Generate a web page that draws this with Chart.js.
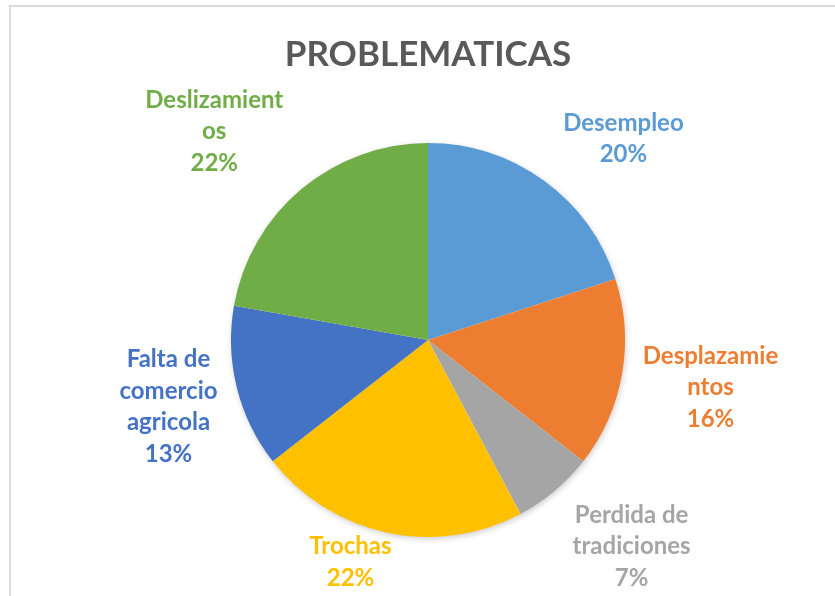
<!DOCTYPE html>
<html>
<head>
<meta charset="utf-8">
<script src="https://cdn.jsdelivr.net/npm/chart.js@4"></script>
<style>
  html, body { margin: 0; padding: 0; background: #ffffff; }
  #wrap { position: relative; width: 835px; height: 596px; overflow: hidden; background: #ffffff; }
  #frame { position: absolute; left: 9px; top: 5px; width: 900px; height: 700px; border: 2px solid #dcdcdc; box-sizing: border-box; }
  canvas { position: absolute; left: 0; top: 0; }
</style>
</head>
<body>
<div id="wrap">
  <div id="frame"></div>
  <canvas id="c" width="835" height="596"></canvas>
</div>
<script>
const chartTitle = 'PROBLEMATICAS';
const categories = ['Desempleo', 'Desplazamientos', 'Perdida de tradiciones', 'Trochas', 'Falta de comercio agricola', 'Deslizamientos'];
const labelLines = [['Desempleo'], ['Desplazamie', 'ntos'], ['Perdida de', 'tradiciones'], ['Trochas'], ['Falta de', 'comercio', 'agricola'], ['Deslizamient', 'os']];
const values = [9, 7, 3, 10, 6, 10];
const colors = ['#5B9BD5', '#ED7D31', '#A5A5A5', '#FFC000', '#4472C4', '#70AD47'];
const labelNudge = [[37, 16], [3, -3], [22, -11], [-26, -21], [4, 0], [-28, 12]];

const FONT = 'Lato, "Open Sans", sans-serif';

const shadowPlugin = {
  id: 'xlShadow',
  beforeDatasetsDraw(chart) {
    const arc = chart.getDatasetMeta(0).data[0];
    if (!arc) return;
    const p = arc.getProps(['x', 'y', 'outerRadius'], true);
    const ctx = chart.ctx;
    ctx.save();
    ctx.shadowColor = 'rgba(0,0,0,0.22)';
    ctx.shadowBlur = 6;
    ctx.shadowOffsetX = 1;
    ctx.shadowOffsetY = 2;
    ctx.fillStyle = '#ffffff';
    ctx.beginPath();
    ctx.arc(p.x, p.y, p.outerRadius - 0.5, 0, Math.PI * 2);
    ctx.fill();
    ctx.restore();
  }
};

const titlePlugin = {
  id: 'xlTitle',
  afterDraw(chart) {
    const ctx = chart.ctx;
    ctx.save();
    ctx.font = 'bold 35px ' + FONT;
    ctx.fillStyle = '#595959';
    ctx.textAlign = 'center';
    ctx.textBaseline = 'alphabetic';
    const a = chart.chartArea;
    ctx.fillText(chartTitle, (a.left + a.right) / 2, 66);
    ctx.restore();
  }
};

const labelPlugin = {
  id: 'xlLabels',
  afterDatasetsDraw(chart) {
    const ctx = chart.ctx;
    const meta = chart.getDatasetMeta(0);
    const total = values.reduce((s, v) => s + v, 0);
    const lh = 31.5;
    const gap = 12;
    ctx.save();
    ctx.font = 'bold 24px ' + FONT;
    ctx.textAlign = 'center';
    ctx.textBaseline = 'middle';
    meta.data.forEach((arc, i) => {
      const p = arc.getProps(['x', 'y', 'startAngle', 'endAngle', 'outerRadius'], true);
      const mid = (p.startAngle + p.endAngle) / 2;
      const dx = Math.cos(mid), dy = Math.sin(mid);
      const lines = labelLines[i].concat([Math.round(values[i] / total * 100) + '%']);
      const w = Math.max(...lines.map(t => ctx.measureText(t).width));
      const h = lines.length * 31;
      const d = p.outerRadius + gap + Math.abs(dx) * w / 2 + Math.abs(dy) * h / 2;
      const cx = p.x + dx * d + labelNudge[i][0];
      const cy = p.y + dy * d + labelNudge[i][1];
      ctx.fillStyle = colors[i];
      lines.forEach((t, k) => {
        ctx.fillText(t, cx, cy - (lines.length - 1) * lh / 2 + k * lh + 1);
      });
    });
    ctx.restore();
  }
};

new Chart(document.getElementById('c'), {
  type: 'pie',
  data: {
    labels: categories,
    datasets: [{
      data: values,
      backgroundColor: colors,
      borderWidth: 0,
      hoverOffset: 0
    }]
  },
  options: {
    responsive: false,
    animation: false,
    devicePixelRatio: 1,
    layout: { padding: { left: 231, right: 210, top: 143, bottom: 59 } },
    plugins: {
      legend: { display: false },
      title: { display: false },
      tooltip: { enabled: false }
    }
  },
  plugins: [shadowPlugin, titlePlugin, labelPlugin]
});
</script>
</body>
</html>
